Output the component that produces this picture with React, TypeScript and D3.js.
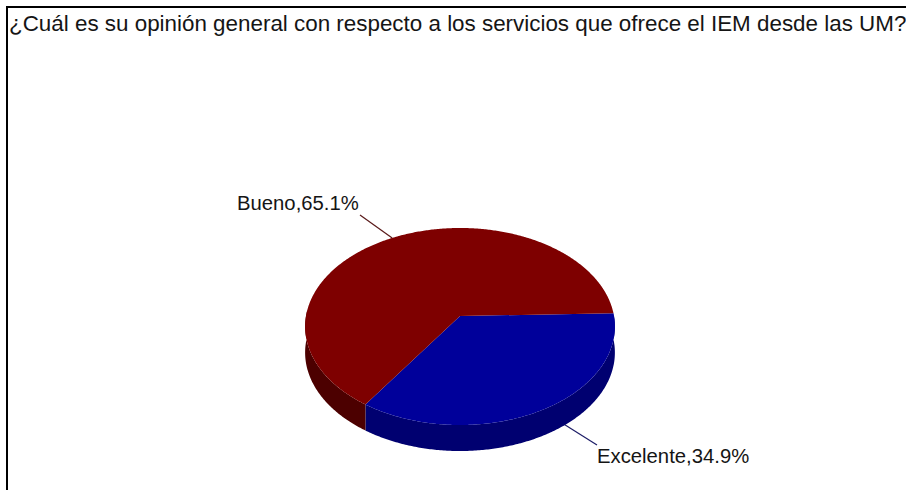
import React from "react";
import * as d3 from "d3";

const title = "¿Cuál es su opinión general con respecto a los servicios que ofrece el IEM desde las UM?";
const categories = ["Excelente", "Bueno"];
const values = [34.9, 65.1];
const topColors = ["#00009a", "#7e0000"];
const sideColors = ["#000070", "#4c0000"];
const leaderColors = ["#1c1c66", "#5a1a1a"];

const W = 906, H = 490;
const cx = 460, cy = 316, R = 154, S = 97.4, K = 0.1066, depth = 26;
const startAngle = (-1.6 * Math.PI) / 180;

// perspective projection of a flat disc: angle 0 = east, growing clockwise on screen
const project = (a: number, r = 1, dy = 0): [number, number] => {
  const u = r * Math.cos(a), v = r * Math.sin(a);
  const d = 1 - K * v;
  return [cx + (R * u) / d, cy + (S * v) / d + dy];
};

const pie = d3.pie<number>().sort(null).startAngle(startAngle).endAngle(startAngle + 2 * Math.PI);
const arcs = pie(values);
const line = d3.line();

const sample = (a0: number, a1: number) => {
  const n = Math.max(2, Math.ceil(Math.abs(a1 - a0) / 0.01));
  return d3.range(n + 1).map((i) => a0 + ((a1 - a0) * i) / n);
};

const wedge = (a0: number, a1: number) =>
  line([[cx, cy], ...sample(a0, a1).map((a) => project(a))]) + "Z";

// visible side wall: only the front half of the rim (angles between 0 and PI)
const side = (a0: number, a1: number) => {
  const lo = Math.max(a0, -0.06), hi = Math.min(a1, Math.PI + 0.06);
  if (hi <= lo) return "";
  const top = sample(lo, hi).map((a) => project(a));
  const bottom = sample(lo, hi).reverse().map((a) => project(a, 1, depth));
  return line([...top, ...bottom]) + "Z";
};

const leaderEnds: [number, number][] = [[597, 445], [360, 215]];
const labelPos: { x: number; y: number }[] = [{ x: 597, y: 463 }, { x: 237, y: 210 }];

export default function App() {
  return (
    <svg width={W} height={H} style={{ position: "fixed", left: 0, top: 0, background: "#fff" }}>
      <path d={`M7,490V7H906`} fill="none" stroke="#000" strokeWidth={2} />
      <text x={9} y={31} fontFamily="'Liberation Sans', Arial, sans-serif" fontSize={22.4} fill="#151515">
        {title}
      </text>
      {arcs.map((d, i) => {
        const mid = (d.startAngle + d.endAngle) / 2;
        const [x, y] = project(mid);
        return (
          <line key={i} x1={x} y1={y} x2={leaderEnds[i][0]} y2={leaderEnds[i][1]} stroke={leaderColors[i]} strokeWidth={1.2} />
        );
      })}
      {arcs.map((d, i) => (
        <path key={i} d={side(d.startAngle, d.endAngle)} fill={sideColors[i]} />
      ))}
      {arcs.map((d, i) => (
        <path key={i} d={wedge(d.startAngle, d.endAngle)} fill={topColors[i]} />
      ))}
      {arcs.map((d, i) => (
        <text key={i} x={labelPos[i].x} y={labelPos[i].y} fontFamily="'Liberation Sans', Arial, sans-serif" fontSize={20.3} fill="#151515">
          {`${categories[i]},${d.data.toFixed(1)}%`}
        </text>
      ))}
    </svg>
  );
}
